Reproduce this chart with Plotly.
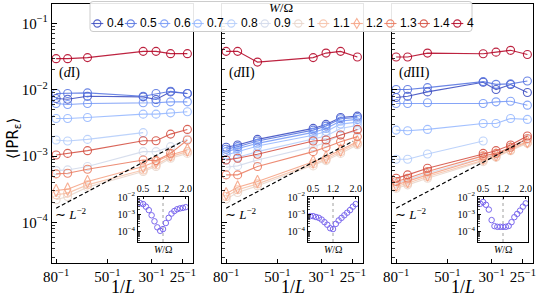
import plotly.graph_objects as go

# ---------------- data ----------------
L_sizes = [80, 72, 60, 36, 32, 28, 24]
W_labels = ["0.4", "0.5", "0.6", "0.7", "0.8", "0.9", "1", "1.1", "1.2", "1.3", "1.4", "4"]

x_tickvals = [1 / 80, 1 / 50, 0.03, 0.04]
x_ticktext = ["80<sup>−1</sup>", "50<sup>−1</sup>", "30<sup>−1</sup>", "25<sup>−1</sup>"]
y_tickvals = [1e-4, 1e-3, 1e-2, 1e-1]
y_ticktext = ["10<sup>−4</sup>", "10<sup>−3</sup>", "10<sup>−2</sup>", "10<sup>−1</sup>"]

# panel (dI)
dI_04 = [0.00739, 0.00722, 0.00801, 0.00783, 0.00714, 0.00931, 0.00879]
dI_05 = [0.00879, 0.00879, 0.00899, 0.00801, 0.00879, 0.00953, 0.00879]
dI_06 = [0.00622, 0.00601, 0.00622, 0.00637, 0.00637, 0.00659, 0.00659]
dI_07 = [0.00370, 0.00370, 0.00383, 0.00430, 0.00430, 0.00450, 0.00466]
dI_08 = [0.00175, 0.00169, 0.00179, 0.00226, None, None, None]
dI_09 = [0.000606, 0.000620, 0.000697, 0.00117, 0.00117, 0.00139, 0.00181]
dI_10 = [0.000220, 0.000247, 0.000341, 0.000586, 0.000697, 0.000929, 0.00110]
dI_11 = [0.000262, 0.000277, 0.000369, 0.000620, 0.000738, 0.000984, 0.00117]
dI_12 = [0.000304, 0.000318, 0.000415, 0.000697, 0.000828, 0.00104, 0.00124]
dI_13 = [0.000540, 0.000553, 0.000635, 0.000877, 0.000857, 0.00110, 0.00175]
dI_14 = [0.00104, 0.00110, 0.00121, 0.00171, 0.00171, 0.00215, 0.00253]
dI_4 = [0.0295, 0.0295, 0.0306, 0.0380, 0.0380, 0.0351, 0.0351]

# panel (dII)
dII_04 = [0.00136, 0.00147, 0.00179, 0.00262, 0.00301, 0.00383, 0.00401]
dII_05 = [0.00127, 0.00139, 0.00169, 0.00247, 0.00284, 0.00366, 0.00383]
dII_06 = [0.00117, 0.00130, 0.00156, 0.00228, 0.00262, 0.00338, 0.00358]
dII_07 = [0.00104, 0.00117, 0.00142, 0.00206, 0.00236, 0.00304, 0.00326]
dII_08 = [0.000877, 0.000962, 0.00117, 0.00179, 0.00201, 0.00262, 0.00291]
dII_09 = [0.000681, 0.000713, 0.000877, 0.00139, 0.00160, 0.00208, 0.00242]
dII_10 = [0.000225, 0.000283, 0.000357, 0.000713, 0.000857, 0.00110, 0.00149]
dII_11 = [0.000247, 0.000311, 0.000382, 0.000764, 0.000897, 0.00117, 0.00156]
dII_12 = [0.000271, 0.000341, 0.000415, 0.000828, 0.000962, 0.00124, 0.00165]
dII_13 = [0.000522, 0.000522, 0.000697, 0.00117, 0.00136, 0.00165, 0.00197]
dII_14 = [0.000877, 0.000929, 0.00107, 0.00169, 0.00175, 0.00208, 0.00253]
dII_4 = [0.0380, 0.0380, 0.0262, 0.0306, 0.0358, 0.0380, 0.0312]

# panel (dIII)
dIII_04 = [0.00765, 0.00801, 0.00931, 0.0130, 0.0101, 0.0120, 0.00910]
dIII_05 = [0.0101, 0.0101, 0.0108, 0.0133, 0.0121, 0.0123, 0.0136]
dIII_06 = [0.00622, 0.00622, 0.00637, 0.00622, 0.00659, 0.00674, 0.00587]
dIII_07 = [0.00247, 0.00242, 0.00253, 0.00311, 0.00311, 0.00370, 0.00358]
dIII_08 = [0.000897, 0.000897, 0.00108, 0.00169, None, None, None]
dIII_09 = [0.000391, 0.000439, 0.000553, 0.000962, 0.00107, 0.00136, 0.00179]
dIII_10 = [0.000329, 0.000369, 0.000465, 0.000828, 0.000962, 0.00121, 0.00156]
dIII_11 = [0.000349, 0.000391, 0.000493, 0.000877, 0.000984, 0.00124, 0.00160]
dIII_12 = [0.000369, 0.000415, 0.000522, 0.000929, 0.00104, 0.00131, 0.00165]
dIII_13 = [0.000415, 0.000465, 0.000586, 0.00101, 0.00110, 0.00136, 0.00185]
dIII_14 = [0.000465, 0.000522, 0.000657, 0.00110, 0.00121, 0.00147, 0.00201]
dIII_4 = [0.0312, 0.0312, 0.0358, 0.0350, 0.0370, 0.0394, 0.0340]

# insets: <IPR> vs W/Omega
W_inset = [0.4, 0.5, 0.6, 0.7, 0.8, 0.9, 1.0, 1.1, 1.2, 1.3, 1.4, 1.5, 1.6, 1.7, 1.8, 1.9, 2.0]
inset_I = [4.47e-3, 3.98e-3, 2.82e-3, 1.78e-3, 8.9e-4, 3.98e-4, 1.78e-4, 1.12e-4, 1.41e-4,
           3.16e-4, 6.3e-4, 1.12e-3, 1.58e-3, 2.0e-3, 2.24e-3, 2.4e-3, 2.63e-3]
inset_II = [7.94e-4, 7.94e-4, 7.08e-4, 6.31e-4, 5.01e-4, 3.55e-4, 2.51e-4, 1.58e-4, 1.41e-4,
            2.82e-4, 4.47e-4, 6.31e-4, 8.91e-4, 1.26e-3, 1.78e-3, 2.82e-3, 3.98e-3]
inset_III = [4.17e-3, 5.25e-3, 3.63e-3, 1.91e-3, 4.68e-4, 2.09e-4, 1.91e-4, 1.91e-4, 1.91e-4,
             1.91e-4, 2.14e-4, 3.55e-4, 6.92e-4, 1.07e-3, 1.66e-3, 2.82e-3, 4.37e-3]
inset_ticks = [0.5, 1.2, 2.0]
W_critical = 1.2

ref_coef = 1.05          # ~ L^-2 guide line
ref_L = [80, 25]

panels = [
    ("(<i>d</i>I)", [dI_04, dI_05, dI_06, dI_07, dI_08, dI_09, dI_10, dI_11, dI_12, dI_13, dI_14, dI_4], inset_I),
    ("(<i>d</i>II)", [dII_04, dII_05, dII_06, dII_07, dII_08, dII_09, dII_10, dII_11, dII_12, dII_13, dII_14, dII_4], inset_II),
    ("(<i>d</i>III)", [dIII_04, dIII_05, dIII_06, dIII_07, dIII_08, dIII_09, dIII_10, dIII_11, dIII_12, dIII_13, dIII_14, dIII_4], inset_III),
]

# ---------------- styling ----------------
COOLWARM = [(59, 76, 192), (68, 90, 204), (77, 104, 215), (87, 117, 225), (98, 130, 234), (108, 142, 241),
            (119, 154, 247), (130, 165, 251), (141, 176, 254), (152, 185, 255), (163, 194, 255), (174, 201, 253),
            (184, 208, 249), (194, 213, 244), (204, 217, 238), (213, 219, 230), (221, 221, 221), (229, 216, 209),
            (236, 211, 197), (241, 204, 185), (245, 196, 173), (247, 187, 160), (247, 177, 148), (247, 166, 135),
            (244, 154, 123), (241, 141, 111), (236, 127, 99), (229, 112, 88), (222, 96, 77), (213, 80, 66),
            (203, 62, 56), (192, 40, 47), (180, 4, 38)]


def coolwarm(t, alpha=0.88):
    pos = t * (len(COOLWARM) - 1)
    i = min(int(pos), len(COOLWARM) - 2)
    f = pos - i
    c = [COOLWARM[i][k] * (1 - f) + COOLWARM[i + 1][k] * f for k in range(3)]
    return "rgba(%d,%d,%d,%.2f)" % (round(c[0]), round(c[1]), round(c[2]), alpha)


colors = [coolwarm(i / (len(W_labels) - 1)) for i in range(len(W_labels))]
symbols = ["diamond-tall-open" if lab == "1.2" else "circle-open" for lab in W_labels]

SERIF = "Liberation Serif, Times New Roman, serif"
SANS = "Liberation Sans, Arial, sans-serif"

FIG_W, FIG_H = 538, 299
PL, PR, PT, PB = 52, 533, 4, 263


def fx(px):
    return (px - PL) / (PR - PL)


def fy(py):
    return (PB - py) / (PB - PT)


panel_px = [(52, 193), (222, 363), (392, 533)]
inset_px = [(138, 188), (308, 358), (478, 528)]
inset_py = (197, 242)

fig = go.Figure()
layout = dict(
    width=FIG_W, height=FIG_H,
    margin=dict(l=PL, r=FIG_W - PR, t=PT, b=FIG_H - PB, pad=0, autoexpand=False),
    paper_bgcolor="white", plot_bgcolor="rgba(0,0,0,0)",
    showlegend=False, hovermode=False,
    font=dict(family=SERIF, size=14, color="black"),
)

minor_vals = [k * 10.0 ** e for e in range(-5, 0) for k in range(2, 10)]
inv_L = [1.0 / v for v in L_sizes]
annotations = []
shapes = []

for p, (plabel, series, inset_vals) in enumerate(panels):
    sx = "" if p == 0 else str(p + 1)
    xa, ya = "x" + sx, "y" + sx
    ix = str(p + 4)
    xi, yi = "x" + ix, "y" + ix

    layout["xaxis" + sx] = dict(
        type="log", range=[-1.9196, -1.3578], domain=[fx(panel_px[p][0]), fx(panel_px[p][1])],
        anchor=ya, tickmode="array", tickvals=x_tickvals, ticktext=x_ticktext,
        ticks="inside", ticklen=4, tickwidth=1, tickcolor="black",
        showline=True, mirror=True, linecolor="black", linewidth=1.2,
        showgrid=False, zeroline=False, tickfont=dict(family=SERIF, size=15),
    )
    layout["yaxis" + sx] = dict(
        type="log", range=[-4.611, -0.706], domain=[0, 1], anchor=xa,
        tickmode="array", tickvals=y_tickvals, ticktext=y_ticktext,
        ticks="inside", ticklen=5, tickwidth=1, tickcolor="black",
        minor=dict(tickmode="array", tickvals=minor_vals, ticks="inside", ticklen=2.5,
                   tickwidth=0.8, tickcolor="black", showgrid=False),
        showline=True, mirror=True, linecolor="black", linewidth=1.2,
        showgrid=False, zeroline=False, showticklabels=(p == 0),
        tickfont=dict(family=SERIF, size=15),
    )

    for j, lab in enumerate(W_labels):
        fig.add_trace(go.Scatter(
            x=inv_L, y=series[j], mode="lines+markers", name=lab,
            line=dict(color=colors[j], width=1.1),
            marker=dict(symbol=symbols[j], size=9 if symbols[j].startswith("diamond") else 8,
                        color=colors[j], line=dict(width=1.1, color=colors[j])),
            xaxis=xa, yaxis=ya, hoverinfo="skip",
        ))
    fig.add_trace(go.Scatter(
        x=[1.0 / v for v in ref_L], y=[ref_coef / v ** 2 for v in ref_L], mode="lines",
        line=dict(color="black", width=1.2, dash="4px,2.5px"), xaxis=xa, yaxis=ya, hoverinfo="skip",
    ))

    # inset
    layout["xaxis" + ix] = dict(
        range=[0.32, 2.08], domain=[fx(inset_px[p][0]), fx(inset_px[p][1])], anchor=yi, side="top",
        tickmode="array", tickvals=inset_ticks, ticktext=["%.1f" % v for v in inset_ticks],
        ticks="inside", ticklen=2, tickcolor="black",
        showline=True, mirror=True, linecolor="black", linewidth=1,
        showgrid=False, zeroline=False, tickfont=dict(family=SERIF, size=10),
    )
    layout["yaxis" + ix] = dict(
        type="log", range=[-4.6, -1.99], domain=[fy(inset_py[1]), fy(inset_py[0])], anchor=xi,
        tickmode="array", tickvals=[1e-4, 1e-3, 1e-2],
        ticktext=["10<sup>−4</sup>", "10<sup>−3</sup>", "10<sup>−2</sup>"],
        ticks="inside", ticklen=3, tickcolor="black",
        minor=dict(tickmode="array", tickvals=minor_vals, ticks="inside", ticklen=1.5,
                   tickwidth=0.7, tickcolor="black", showgrid=False),
        showline=True, mirror=True, linecolor="black", linewidth=1,
        showgrid=False, zeroline=False, tickfont=dict(family=SERIF, size=10),
    )
    fig.add_trace(go.Scatter(
        x=W_inset, y=inset_vals, mode="markers",
        marker=dict(symbol="circle-open", size=5.5, color="#7b68ee", line=dict(width=1, color="#7b68ee")),
        xaxis=xi, yaxis=yi, hoverinfo="skip",
    ))
    shapes.append(dict(type="line", xref=xi, yref=yi + " domain", x0=W_critical, x1=W_critical, y0=0, y1=1,
                       line=dict(color="#888888", width=0.8, dash="dot"), layer="below"))

    # texts
    annotations.append(dict(text=plabel, xref=xa + " domain", yref="paper", x=0.035, y=fy(73),
                            xanchor="left", yanchor="middle", showarrow=False,
                            font=dict(family=SERIF, size=14)))
    annotations.append(dict(text="∼ <i>L</i><sup>−2</sup>", xref=xa + " domain", yref="paper", x=0.01, y=fy(214),
                            xanchor="left", yanchor="middle", showarrow=False,
                            font=dict(family=SERIF, size=13)))
    annotations.append(dict(text="1/<i>L</i>", xref=xa + " domain", yref="paper", x=0.5, y=fy(287),
                            xanchor="center", yanchor="middle", showarrow=False,
                            font=dict(family=SERIF, size=18)))
    annotations.append(dict(text="<i>W</i>/Ω", xref=xi + " domain", yref="paper", x=0.5, y=fy(249),
                            xanchor="center", yanchor="middle", showarrow=False,
                            font=dict(family=SERIF, size=10)))

annotations.append(dict(text="⟨IPR<sub>ε</sub>⟩", xref="paper", yref="paper", x=fx(13), y=fy(139),
                        xanchor="center", yanchor="middle", textangle=-90, showarrow=False,
                        font=dict(family="DejaVu Sans, sans-serif", size=15)))

# ---------------- legend (drawn as a horizontal box at top) ----------------
box_l, box_r, box_t, box_b = 90, 472, 1.5, 31.5
r = 3
path = ("M{l},{t0} L{r0},{t0} Q{r},{t0} {r},{t1} L{r},{b1} Q{r},{b0} {r0},{b0} L{l1},{b0} "
        "Q{l0},{b0} {l0},{b1} L{l0},{t1} Q{l0},{t0} {l1},{t0} Z")
rx = r / (PR - PL)
ry = r / (PB - PT)
L0, R0, T0, B0 = fx(box_l), fx(box_r), fy(box_t), fy(box_b)
shapes.append(dict(type="path", xref="paper", yref="paper", layer="above",
                   path=path.format(l=L0 + rx, t0=T0, r0=R0 - rx, r=R0, t1=T0 - ry, b1=B0 + ry, b0=B0,
                                    l1=L0 + rx, l0=L0),
                   fillcolor="rgba(255,255,255,0.9)", line=dict(color="#cccccc", width=1)))
annotations.append(dict(text="<i>W</i>/Ω", xref="paper", yref="paper", x=fx(281), y=fy(8),
                        xanchor="center", yanchor="middle", showarrow=False,
                        font=dict(family=SERIF, size=13)))

item_y = 23.5
x0 = 91.3
for j, lab in enumerate(W_labels):
    col = colors[j]
    shapes.append(dict(type="line", xref="paper", yref="paper", layer="above",
                       x0=fx(x0), x1=fx(x0 + 12), y0=fy(item_y), y1=fy(item_y),
                       line=dict(color=col, width=1.1)))
    cx = fx(x0 + 6)
    cy = fy(item_y)
    if lab == "1.2":
        shapes.append(dict(type="path", xref="paper", yref="paper", layer="above",
                           xsizemode="pixel", ysizemode="pixel", xanchor=cx, yanchor=cy,
                           path="M0,-5 L3,0 L0,5 L-3,0 Z", fillcolor="rgba(0,0,0,0)",
                           line=dict(color=col, width=1.1)))
    else:
        shapes.append(dict(type="circle", xref="paper", yref="paper", layer="above",
                           xsizemode="pixel", ysizemode="pixel", xanchor=cx, yanchor=cy,
                           x0=-3.6, x1=3.6, y0=-3.6, y1=3.6, fillcolor="rgba(0,0,0,0)",
                           line=dict(color=col, width=1.1)))
    annotations.append(dict(text=lab, xref="paper", yref="paper", x=fx(x0 + 13.5), y=fy(item_y),
                            xanchor="left", yanchor="middle", showarrow=False,
                            font=dict(family=SANS, size=12)))
    w = 7 if len(lab) == 1 else 15.5
    x0 += 14 + w + 4

layout["annotations"] = annotations
layout["shapes"] = shapes
fig.update_layout(**layout)
fig.write_html("out.html", config={"displayModeBar": False, "staticPlot": True},
               post_script="document.body.style.margin='0';document.body.style.overflow='hidden';")
